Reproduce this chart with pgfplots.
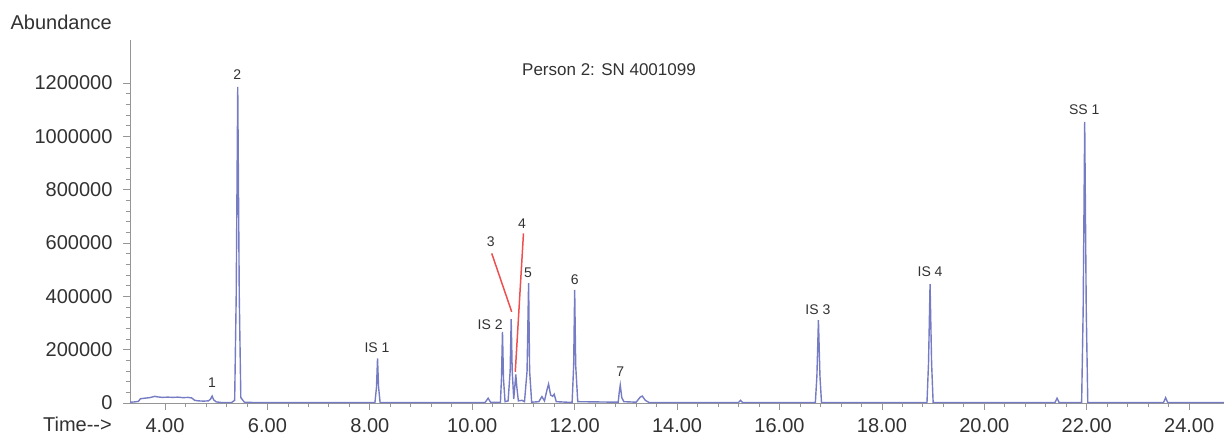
\documentclass[border=0pt]{standalone}
\usepackage{pgfplots}
\pgfplotsset{compat=1.18}
\usepackage{fontspec}
\setmainfont{Liberation Sans}
\definecolor{trace}{RGB}{118,124,196}
\definecolor{ax}{RGB}{150,150,150}
\definecolor{txt}{RGB}{50,50,50}
\definecolor{redl}{RGB}{238,80,80}
\begin{document}
\begin{tikzpicture}
\begin{axis}[
  name=ax,
  scale only axis,
  width=1094pt, height=363pt,
  xmin=3.316, xmax=24.68,
  ymin=0, ymax=1361000,
  axis x line=bottom, axis y line=left,
  axis line style={-, ax, line width=0.8pt},
  xtick={4,6,...,24},
  ytick={0,200000,...,1200000},
  minor x tick num=4,
  minor y tick num=4,
  tick align=outside,
  major tick length=7pt,
  minor tick length=4pt,
  tick style={ax, line width=0.8pt},
  scaled y ticks=false,
  /pgf/number format/assume math mode=true,
  ticklabel style={font=\fontsize{20}{24}\selectfont, text=txt},
  xticklabel style={yshift=-5pt, /pgf/number format/fixed, /pgf/number format/fixed zerofill, /pgf/number format/precision=2},
  yticklabel style={xshift=-7pt, /pgf/number format/fixed, /pgf/number format/set thousands separator={}},
  clip=false,
]
\addplot[trace, line width=1.4pt] coordinates {
(3.32,3000) (3.40,4000) (3.48,6000) (3.52,16000) (3.60,18000) (3.70,20000) (3.80,25000) (3.85,23000)
(3.95,21000) (4.05,22000) (4.15,21000) (4.25,22000) (4.35,20000) (4.45,21000) (4.52,19000) (4.58,10000)
(4.65,8000) (4.75,7000) (4.85,8000) (4.89,15000) (4.92,26000) (4.95,12000) (5.00,4000) (5.10,2000)
(5.30,2000) (5.36,10000) (5.39,400000) (5.42,1185000) (5.45,400000) (5.48,20000) (5.55,3000) (5.70,2000)
(8.10,2000) (8.13,60000) (8.15,167000) (8.17,60000) (8.20,2000)
(10.25,2000) (10.31,18000) (10.36,2000) (10.55,3000) (10.57,90000) (10.59,267000) (10.61,90000) (10.64,5000)
(10.70,8000) (10.74,120000) (10.76,314000) (10.78,120000) (10.81,15000) (10.83,60000) (10.85,107000) (10.87,60000)
(10.90,8000) (10.97,10000) (11.02,5000) (11.07,120000) (11.10,449000) (11.12,120000) (11.16,3000)
(11.30,5000) (11.36,24000) (11.41,8000) (11.46,50000) (11.49,71000) (11.53,30000) (11.57,25000) (11.60,33000) (11.64,5000)
(11.95,2000) (11.98,140000) (12.00,424000) (12.02,140000) (12.06,5000)
(12.85,3000) (12.87,40000) (12.89,67000) (12.92,20000) (12.96,5000)
(13.20,3000) (13.28,22000) (13.32,26000) (13.38,10000) (13.45,2000)
(15.20,2000) (15.24,10000) (15.28,2000)
(16.70,2000) (16.73,100000) (16.76,311000) (16.79,100000) (16.82,2000)
(18.88,2000) (18.91,150000) (18.94,446000) (18.97,150000) (19.00,2000)
(21.38,2000) (21.42,18000) (21.46,2000)
(21.90,2000) (21.93,350000) (21.96,1054000) (21.99,350000) (22.02,2000)
(23.50,2000) (23.54,20000) (23.58,2000) (24.68,2000)
};
\addplot[redl, line width=1.5pt] coordinates {(10.38,561000) (10.77,342000)};
\addplot[redl, line width=1.5pt] coordinates {(11.00,636000) (10.84,117000)};
\begin{scope}[every node/.style={font=\fontsize{14}{16}\selectfont, text=txt, inner sep=0pt}]
\node at (axis cs:4.92,75000) {1};
\node at (axis cs:5.41,1230000) {2};
\node at (axis cs:8.14,206000) {IS 1};
\node at (axis cs:10.35,292000) {IS 2};
\node at (axis cs:10.36,605000) {3};
\node at (axis cs:10.97,674000) {4};
\node at (axis cs:11.09,487000) {5};
\node at (axis cs:12.0,461000) {6};
\node at (axis cs:12.89,116000) {7};
\node at (axis cs:16.75,349000) {IS 3};
\node at (axis cs:18.94,491000) {IS 4};
\node at (axis cs:21.95,1099000) {SS 1};
\end{scope}
\node[font=\fontsize{17}{20}\selectfont, text=txt, inner sep=0pt] at (axis cs:12.67,1249000) {Person 2: SN 4001099};
\node[anchor=east, inner sep=0pt, font=\fontsize{20}{24}\selectfont, text=txt, xshift=-18pt, yshift=18pt] at (rel axis cs:0,1) {Abundance};
\node[anchor=east, inner sep=0pt, font=\fontsize{20}{24}\selectfont, text=txt, xshift=-18pt, yshift=-21pt] at (rel axis cs:0,0) {Time-{}-{}>};
\end{axis}
\pgfresetboundingbox
\useasboundingbox (ax.south west) ++(-130pt,-39pt) rectangle ++(1226pt,442pt);
\end{tikzpicture}
\end{document}
